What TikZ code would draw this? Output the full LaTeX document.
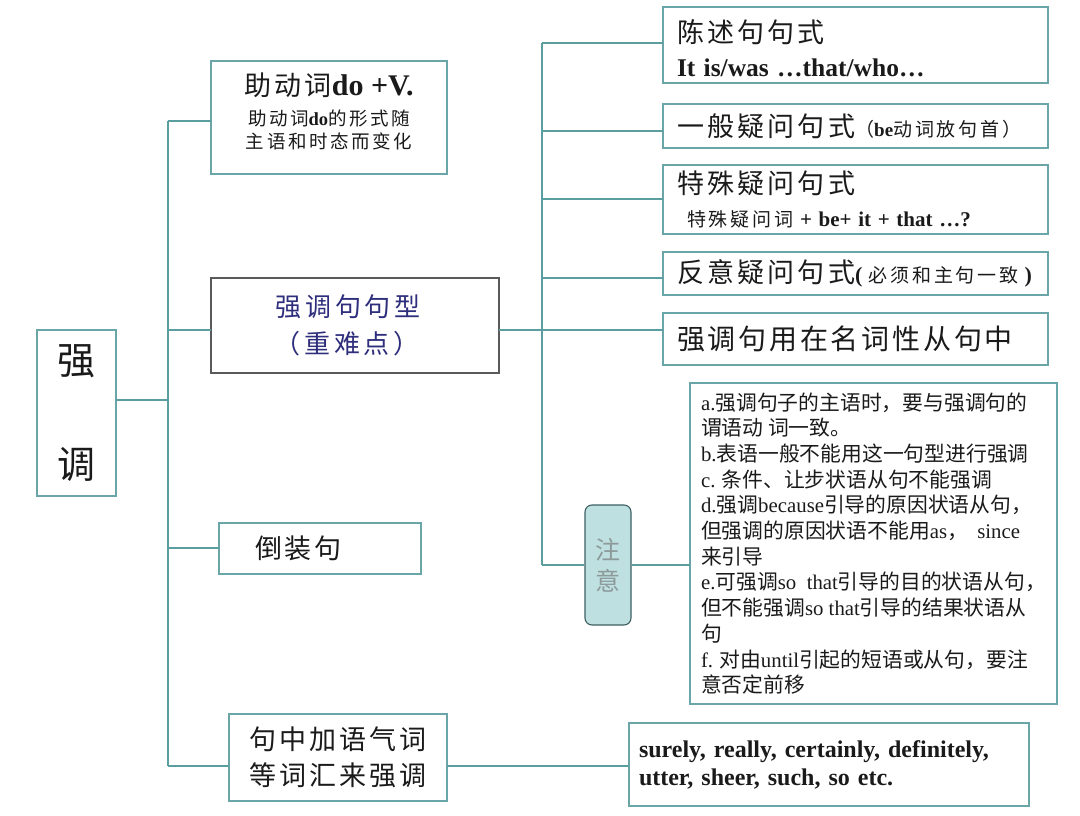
\documentclass[tikz,border=0pt]{standalone}
\usepackage{fontspec}
\setmainfont{Noto Sans CJK SC}
\newfontfamily\lat{Liberation Serif}
\definecolor{ln}{HTML}{5B9EA0}
\definecolor{bd}{HTML}{6AA5A8}
\definecolor{gbd}{HTML}{5A5A5A}
\definecolor{navy}{HTML}{2E2E7C}
\definecolor{zyfill}{HTML}{BFE0E0}
\definecolor{zybd}{HTML}{3F5F60}
\definecolor{zytx}{HTML}{8C9A9A}
\definecolor{tx}{HTML}{1A1A1A}
\newcommand\hd{\fontsize{27}{32}\selectfont\addfontfeature{LetterSpace=12}}
\newcommand\sm{\fontsize{19}{22}\selectfont\addfontfeature{LetterSpace=15}}
\newcommand\bsm{\fontsize{18.5}{23}\selectfont\addfontfeature{LetterSpace=14}}
\begin{document}
\begin{tikzpicture}[x=1pt,y=-1pt,
  box/.style={draw=bd, line width=1.1pt, inner sep=0pt, outer sep=0pt, text=tx},
  lbox/.style={box, align=left, inner xsep=14pt, inner ysep=0pt},
  conn/.style={draw=ln, line width=1.2pt},
]
\useasboundingbox (0,0) rectangle (1080,816);

% left column
\node[box, minimum width=79pt, minimum height=166pt, align=center,
  font=\fontsize{38}{104}\selectfont] (root) at (76.5,413) {强\\调};

\node[box, minimum width=236pt, minimum height=113pt, align=center, text depth=14pt,
  font=\fontsize{18.5}{23}\selectfont] (b1) at (329,117.5)
 {{\fontsize{27}{30}\selectfont\addfontfeature{LetterSpace=12}助动词}{\lat\bfseries\fontsize{30}{30}\selectfont do +V.}\\[7pt]
  {\bsm 助动词{\lat\bfseries do}的形式随}\\
  {\bsm 主语和时态而变化}};

\node[box, draw=gbd, line width=1.4pt, minimum width=288pt, minimum height=95pt,
  align=center, text=navy, font=\fontsize{26}{37}\selectfont\addfontfeature{LetterSpace=15}] (b2) at (355,325.5)
 {\hspace*{-14pt}强调句句型\\\hspace*{-16pt}（重难点）};

\node[box, minimum width=202pt, minimum height=51pt, align=left, text width=130pt,
  inner xsep=36pt, font=\fontsize{27}{32}\selectfont\addfontfeature{LetterSpace=10}] (b3) at (320,548.5) {倒装句};

\node[box, minimum width=218pt, minimum height=87pt, align=center,
  font=\fontsize{27}{36}\selectfont\addfontfeature{LetterSpace=11}] (b4) at (338,757.5)
 {句中加语气词\\等词汇来强调};

% right column
\node[lbox, text width=357pt, minimum height=76pt, text height=29pt, font=\fontsize{25}{34}\selectfont] (r1) at (855.5,45)
 {{\hd 陈述句句式}\\{\lat\bfseries\fontsize{25.5}{26}\selectfont It is/was …that/who…}};
\node[lbox, text width=357pt, minimum height=44pt] (r2) at (855.5,126)
 {\mbox{{\hd 一般疑问句式}{\sm （{\lat\bfseries be}动词放句首）}}};
\node[lbox, text width=357pt, minimum height=69pt, font=\fontsize{20}{33}\selectfont] (r3) at (855.5,199.5)
 {{\hd 特殊疑问句式}\\{\sm\hspace*{10pt}特殊疑问词}{\lat\bfseries\fontsize{21}{22}\selectfont{} + be+ it + that …?}};
\node[lbox, text width=357pt, minimum height=43pt] (r4) at (855.5,273.5)
 {\mbox{{\hd 反意疑问句式}{\lat\bfseries\fontsize{22}{22}\selectfont(}\hspace*{6pt}{\sm 必须和主句一致}\hspace*{6pt}{\lat\bfseries\fontsize{22}{22}\selectfont)}}};
\node[lbox, text width=357pt, minimum height=52pt] (r5) at (855.5,339)
 {{\fontsize{28}{32}\selectfont\addfontfeature{LetterSpace=10}强调句用在名词性从句中}};

\node[draw=zybd, fill=zyfill, line width=1.1pt, rounded corners=7pt, minimum width=46pt,
  minimum height=120pt, inner sep=0pt, align=center, text=zytx,
  font=\fontsize{25}{31}\selectfont] (zy) at (608,565) {注\\意};

\node[box, minimum width=367pt, minimum height=321pt, align=left,
  inner sep=0pt, font=\fontsize{20.8}{25.7}\selectfont] (nt) at (873.5,543.5)
 {{\lat a.}强调句子的主语时，要与强调句的\\
  谓语动 词一致。\\
  {\lat b.}表语一般不能用这一句型进行强调\\
  {\lat c.} 条件、让步状语从句不能强调\\
  {\lat d.}强调{\lat because}引导的原因状语从句，\\
  但强调的原因状语不能用{\lat as}，\ \ {\lat since}\\
  来引导\\
  {\lat e.}可强调{\lat so\ \ that}引导的目的状语从句，\\
  但不能强调{\lat so that}引导的结果状语从\\
  句\\
  {\lat f.} 对由{\lat until}引起的短语或从句，要注\\
  意否定前移};

\node[box, minimum width=400pt, minimum height=83pt, align=left, text width=380pt,
  inner xsep=10pt, inner ysep=0pt, font=\lat\bfseries\fontsize{24}{28}\selectfont] (sw) at (829,764.5)
 {surely, really, certainly, definitely,\\utter, sheer, such, so etc.\\[4pt]};

% connectors
\coordinate (L0) at (168,400);
\coordinate (L1) at (168,121);
\coordinate (L2) at (168,330);
\coordinate (L3) at (168,548);
\coordinate (L4) at (168,766);
\draw[conn] (L0 -| root.east) -- (L0);
\draw[conn] (L1) -- (L4);
\draw[conn] (L1) -- (L1 -| b1.west);
\draw[conn] (L2) -- (L2 -| b2.west);
\draw[conn] (L3) -- (L3 -| b3.west);
\draw[conn] (L4) -- (L4 -| b4.west);

\coordinate (R0) at (542,330);
\coordinate (R1) at (542,43);
\coordinate (R2) at (542,131);
\coordinate (R3) at (542,199);
\coordinate (R4) at (542,278);
\coordinate (R6) at (542,565);
\draw[conn] (R0 -| b2.east) -- (R0);
\draw[conn] (R1) -- (R6);
\draw[conn] (R1) -- (R1 -| r1.west);
\draw[conn] (R2) -- (R2 -| r2.west);
\draw[conn] (R3) -- (R3 -| r3.west);
\draw[conn] (R4) -- (R4 -| r4.west);
\draw[conn] (R0) -- (R0 -| r5.west);
\draw[conn] (R6) -- (R6 -| zy.west);
\draw[conn] (R6 -| zy.east) -- (R6 -| nt.west);

\coordinate (B0) at (538,766);
\draw[conn] (B0 -| b4.east) -- (B0 -| sw.west);
\end{tikzpicture}
\end{document}
